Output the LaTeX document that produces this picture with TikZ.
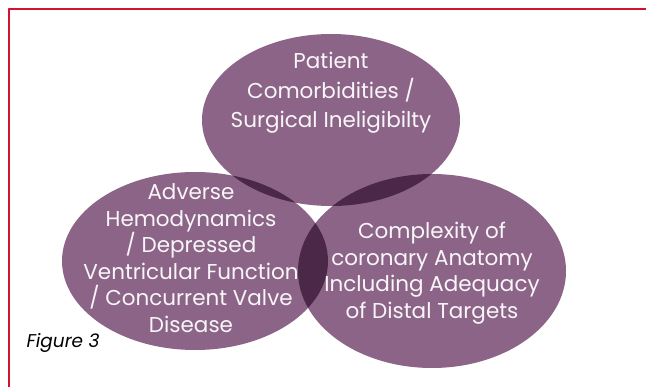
\documentclass[tikz,border=0pt]{standalone}
\usepackage{fontspec}
\setmainfont{Poppins}
\definecolor{bubblefill}{RGB}{140,100,135}
\definecolor{bubbledark}{RGB}{75,40,72}
\definecolor{framered}{RGB}{210,18,46}
\tikzset{
  bubble/.style={fill=bubblefill},
  overlap/.style={fill=bubbledark},
  bubbletext/.style={text=white!94!bubblefill,align=center,font=\fontsize{21.5}{26.5}\selectfont},
}
\begin{document}
\begin{tikzpicture}[x=1pt,y=-1pt,line cap=round,line join=round]
  \useasboundingbox (0,0) rectangle (646,387);
  % frame on top and left
  \draw[framered!45,line width=2.4pt] (9,387) -- (9,9) -- (646,9);
  \draw[framered,line width=1.1pt] (9,387) -- (9,9) -- (646,9);
  % the three bubbles
  \def\topell{(331,120) ellipse [x radius=129,y radius=86]}
  \def\leftell{(195,261) ellipse [x radius=133,y radius=89]}
  \def\rightell{(432,271) ellipse [x radius=134,y radius=97]}
  \fill[bubble] \topell;
  \fill[bubble] \leftell;
  \fill[bubble] \rightell;
  % darker where two bubbles meet
  \begin{scope}
    \clip \topell;
    \fill[overlap] \leftell;
    \fill[overlap] \rightell;
  \end{scope}
  \begin{scope}
    \clip \leftell;
    \fill[overlap] \rightell;
  \end{scope}
  \node[bubbletext,font=\fontsize{21.5}{29.5}\selectfont] (patient) at (331,93)
    {Patient\\Comorbidities /\\Surgical Ineligibilty};
  \node[bubbletext] (adverse) at (191,258)
    {Adverse\\Hemodynamics\\/ Depressed\\Ventricular Function\\/ Concurrent Valve\\Disease};
  \node[bubbletext] (complexity) at (432,273)
    {Complexity of\\coronary Anatomy\\Including Adequacy\\of Distal Targets};
  \node[anchor=west,font=\fontsize{18.5}{20}\selectfont\itshape] (fig) at (23,343) {Figure 3};
\end{tikzpicture}
\end{document}
